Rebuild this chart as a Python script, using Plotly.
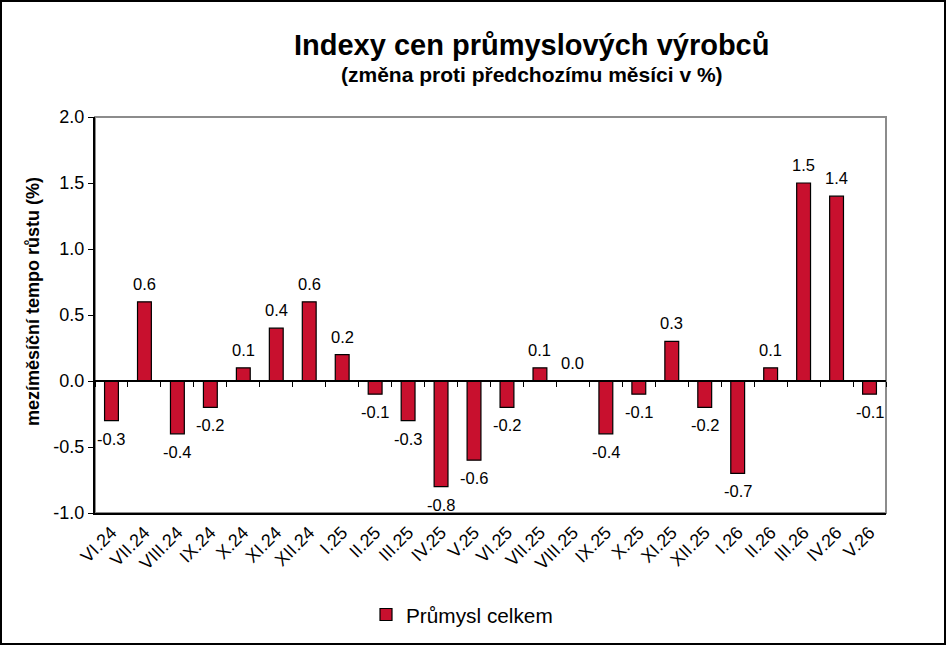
import plotly.graph_objects as go

mesice = ['VI.24', 'VII.24', 'VIII.24', 'IX.24', 'X.24', 'XI.24', 'XII.24', 'I.25', 'II.25', 'III.25',
          'IV.25', 'V.25', 'VI.25', 'VII.25', 'VIII.25', 'IX.25', 'X.25', 'XI.25', 'XII.25', 'I.26',
          'II.26', 'III.26', 'IV.26', 'V.26']
prumysl_celkem = [-0.3, 0.6, -0.4, -0.2, 0.1, 0.4, 0.6, 0.2, -0.1, -0.3,
                  -0.8, -0.6, -0.2, 0.1, 0.0, -0.4, -0.1, 0.3, -0.2, -0.7,
                  0.1, 1.5, 1.4, -0.1]
y_ticks = [-1.0, -0.5, 0.0, 0.5, 1.0, 1.5, 2.0]

nadpis = 'Indexy cen průmyslových výrobců'
podnadpis = '(změna proti předchozímu měsíci v %)'
osa_y = 'mezíměsíční tempo růstu (%)'

W, H = 946, 645
ml, mr, mt, mb = 95, 60, 117, 132
pw, ph = W - ml - mr, H - mt - mb
font = 'Liberation Sans, Arial, sans-serif'


def py(y_px):
    # pixel od horniho okraje -> souradnice paper
    return 1 + (mt - y_px) / ph


def px_(x_px):
    return (x_px - ml) / pw


fig = go.Figure()
fig.add_bar(x=mesice, y=prumysl_celkem, name='Průmysl celkem',
            marker=dict(color='#C8102E', line=dict(color='black', width=1.2)),
            width=0.42, hoverinfo='x+y')

# prazdna osa na nule jen kvuli carkam mezi kategoriemi
fig.add_scatter(x=mesice, y=[None] * len(mesice), xaxis='x2', showlegend=False, hoverinfo='skip')

# popisky hodnot nad / pod sloupci
for m, v in zip(mesice, prumysl_celkem):
    fig.add_annotation(x=m, y=v, text=f'{v:.1f}', showarrow=False, yanchor='middle',
                       yshift=18 if v >= 0 else -18, font=dict(size=16.5))

fig.update_layout(
    width=W, height=H,
    margin=dict(l=ml, r=mr, t=mt, b=mb, autoexpand=False),
    paper_bgcolor='white', plot_bgcolor='white',
    font=dict(family=font, size=16, color='black'),
    showlegend=True,
    legend=dict(orientation='h', x=px_(462), xanchor='center', y=py(615), yanchor='middle',
                font=dict(size=20.8), itemwidth=30),
    xaxis=dict(type='category', tickangle=-45, ticks='', showline=True, linecolor='black', linewidth=2,
               tickfont=dict(size=18), range=[-0.5, len(mesice) - 0.5], automargin=False),
    xaxis2=dict(type='category', overlaying='x', anchor='free', position=1 / 3, side='bottom',
                showline=True, linecolor='black', linewidth=2, ticks='outside', tickson='boundaries',
                ticklen=5, tickcolor='black', showticklabels=False, showgrid=False,
                range=[-0.5, len(mesice) - 0.5], matches='x'),
    yaxis=dict(range=[-1.0, 2.0], tickvals=y_ticks, ticktext=[f'{v:.1f}' for v in y_ticks],
               showgrid=False, zeroline=False,
               showline=True, linecolor='black', linewidth=2, ticks='outside', ticklen=5, tickcolor='black',
               tickfont=dict(size=18), automargin=False),
    bargap=0.58,
)

fig.add_annotation(text=f'<b>{nadpis}</b>', xref='paper', yref='paper', x=px_(531), y=py(45),
                   xanchor='center', yanchor='middle', showarrow=False, font=dict(size=29))
fig.add_annotation(text=f'<b>{podnadpis}</b>', xref='paper', yref='paper', x=px_(532), y=py(74),
                   xanchor='center', yanchor='middle', showarrow=False, font=dict(size=21))
fig.add_annotation(text=f'<b>{osa_y}</b>', xref='paper', yref='paper', x=px_(33), y=py(302),
                   xanchor='center', yanchor='middle', textangle=-90, showarrow=False, font=dict(size=18))

# sedy ramecek plochy grafu a cerny okraj celeho obrazku
fig.add_shape(type='rect', xref='paper', yref='paper', x0=0, x1=1, y0=0, y1=1,
              line=dict(color='#8c8c8c', width=2), layer='below')
fig.add_shape(type='rect', xref='paper', yref='paper',
              x0=px_(1), x1=px_(W - 1), y0=py(H - 1), y1=py(1),
              line=dict(color='black', width=2))

fig.write_html('out.html', config={'displayModeBar': False},
               post_script="document.body.style.margin='0';")
